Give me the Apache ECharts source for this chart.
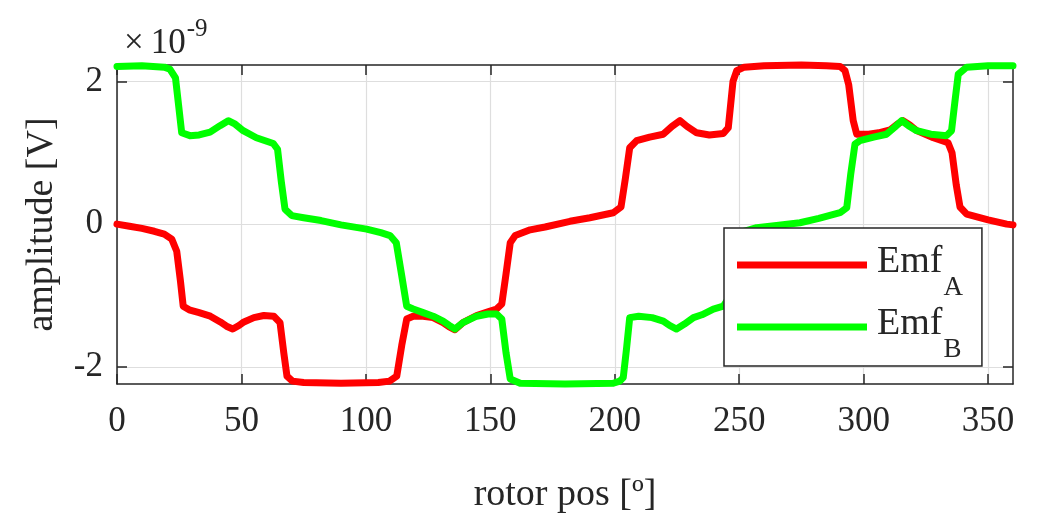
<!DOCTYPE html>
<html><head><meta charset="utf-8">
<script src="https://cdn.jsdelivr.net/npm/echarts@6/dist/echarts.min.js"></script>
<style>html,body{margin:0;padding:0;background:#fff}#c{width:1042px;height:518px}</style>
</head><body><div id="c"></div>
<script>
// values in units of 1e-9 V (axis multiplier shown as ×10^-9)
const posA = [0,5,10,15,19,22,24,25.5,26.6,29,33,37.5,41.5,44,46.5,49,51,55,59,63,65.5,67,68.3,70.5,75,90,105,109.5,112.4,114.4,116.4,119,123,127,131,133.5,135.8,139,144.5,149,152.5,154.6,156.3,158,160,166,172,182,190,199.4,202.5,204.3,206,208.8,214,219.5,223,226.2,229,232.9,238,243.6,245.6,247.5,249,252,260,275,285,290.5,292.5,294,295.8,297.2,302,306,310.6,313.5,315.8,318.5,321.3,328,333.9,335.5,337.2,338.7,341.4,350,357.5,360];
const emfA = [0,-0.03,-0.06,-0.10,-0.14,-0.21,-0.38,-0.8,-1.15,-1.20,-1.24,-1.29,-1.37,-1.43,-1.47,-1.42,-1.37,-1.31,-1.28,-1.29,-1.38,-1.8,-2.13,-2.2,-2.22,-2.23,-2.22,-2.2,-2.13,-1.7,-1.33,-1.29,-1.29,-1.31,-1.38,-1.44,-1.48,-1.38,-1.28,-1.23,-1.19,-1.12,-0.7,-0.26,-0.16,-0.08,-0.04,0.04,0.09,0.16,0.24,0.65,1.07,1.17,1.22,1.26,1.37,1.45,1.37,1.28,1.25,1.27,1.35,2.0,2.15,2.2,2.22,2.23,2.22,2.21,2.15,1.95,1.45,1.26,1.26,1.28,1.32,1.40,1.45,1.39,1.31,1.21,1.14,1.0,0.55,0.24,0.14,0.06,0.0,-0.01];
const posB = [0,10,19,21.3,23.5,24.8,26,29.3,33,37.4,41.4,44.7,47.5,50.7,56,62.8,64.5,66,67.5,70.2,75,82,90,100.3,106,109.7,112.2,114.3,116.4,119,123,127,131,133.5,135.8,139,144.5,149,152.5,154.6,156.3,158,162,180,199.4,202,203.4,204.7,206,209.6,215,219.5,222,224.8,228,231.6,235,239.6,243.6,245.5,246.6,247.7,250,254,257,265,274.4,282,290.5,293.2,294.8,296.5,298.5,304,309.2,312.5,315.3,318,321.3,327,333.3,335.3,336.6,338,341.4,350,360];
const emfB = [2.21,2.22,2.2,2.17,2.05,1.65,1.28,1.24,1.25,1.29,1.38,1.45,1.40,1.31,1.21,1.13,1.05,0.6,0.21,0.12,0.09,0.05,-0.01,-0.07,-0.12,-0.16,-0.26,-0.7,-1.15,-1.19,-1.24,-1.29,-1.36,-1.42,-1.47,-1.38,-1.29,-1.26,-1.26,-1.33,-1.8,-2.17,-2.23,-2.24,-2.23,-2.2,-2.15,-1.75,-1.31,-1.29,-1.31,-1.36,-1.42,-1.47,-1.40,-1.31,-1.27,-1.19,-1.15,-1.05,-0.6,-0.22,-0.12,-0.08,-0.05,-0.02,0.02,0.08,0.16,0.23,0.7,1.12,1.17,1.22,1.26,1.36,1.45,1.38,1.31,1.26,1.24,1.31,1.7,2.1,2.2,2.22,2.22];
const xTicks = [0,50,100,150,200,250,300,350];
const yTicks = [-2,0,2];
const seriesNames = ['Emf_A','Emf_B'];
const seriesColors = ['#ff0000','#00ff00'];
const xTitle = 'rotor pos [º]';
const yTitle = 'amplitude [V]';
const expSym = '×', expBase = '10', expPow = '-9';

const FONT = 'Liberation Serif';
const TXT = '#262626';
const chart = echarts.init(document.getElementById('c'));
const mkData = (xs, ys) => xs.map((x, i) => [x, ys[i]]);
const xRange = [0, 360], yRange = [-2.24, 2.23];
const boxLine = {show:true, onZero:false, lineStyle:{color:TXT, width:1.5}};
const tickIn = vals => ({show:true, inside:true, length:10, customValues:vals, lineStyle:{color:TXT, width:1.5}});
chart.setOption({
  animation:false,
  backgroundColor:'#fff',
  title:{
    text:'{x|'+expSym+'}{a|'+expBase+'}{b|'+expPow+'}', left:119, top:12,
    textStyle:{fontWeight:'normal', rich:{
      x:{fontFamily:FONT, fontSize:35, fontWeight:'normal', color:TXT, verticalAlign:'bottom', lineHeight:44, padding:[0,7,0,0]},
      a:{fontFamily:FONT, fontSize:35, fontWeight:'normal', color:TXT, verticalAlign:'bottom', lineHeight:44},
      b:{fontFamily:FONT, fontSize:25, fontWeight:'normal', color:TXT, verticalAlign:'top', lineHeight:40, padding:[0,0,0,1]}
    }}
  },
  grid:{left:117, right:29, top:65, bottom:134, containLabel:false, outerBoundsMode:'none'},
  xAxis:[{
    type:'value', min:xRange[0], max:xRange[1], position:'bottom',
    axisLine:boxLine, axisTick:tickIn(xTicks),
    axisLabel:{show:true, customValues:xTicks, margin:20, fontFamily:FONT, fontSize:35, color:TXT},
    splitLine:{show:true, lineStyle:{color:'#dedede', width:1.2}},
    name:xTitle, nameLocation:'middle', nameGap:92,
    nameTextStyle:{fontFamily:FONT, fontSize:38, color:TXT}
  },{
    type:'value', min:xRange[0], max:xRange[1], position:'top',
    axisLine:boxLine, axisTick:tickIn(xTicks), axisLabel:{show:false}, splitLine:{show:false}
  }],
  yAxis:[{
    type:'value', min:yRange[0], max:yRange[1], position:'left',
    axisLine:boxLine, axisTick:tickIn(yTicks),
    axisLabel:{show:true, customValues:yTicks, margin:14, fontFamily:FONT, fontSize:35, color:TXT},
    splitLine:{show:true, lineStyle:{color:'#dedede', width:1.2}},
    name:yTitle, nameLocation:'middle', nameGap:56,
    nameTextStyle:{fontFamily:FONT, fontSize:38, color:TXT}
  },{
    type:'value', min:yRange[0], max:yRange[1], position:'right',
    axisLine:boxLine, axisTick:tickIn(yTicks), axisLabel:{show:false}, splitLine:{show:false}
  }],
  legend:{
    orient:'vertical', left:724, top:228,
    padding:[15,19,3,13], itemGap:4, itemWidth:130, itemHeight:7, icon:'rect',
    backgroundColor:'#fff', borderColor:TXT, borderWidth:1.5, borderRadius:0,
    data:seriesNames,
    formatter:name => { const p = name.split('_'); return '{m|'+p[0]+'}{s|'+p[1]+'}'; },
    textStyle:{padding:[0,0,6,0], rich:{
      m:{fontFamily:FONT, fontSize:38, color:TXT, verticalAlign:'top', lineHeight:38, padding:[0,0,0,5]},
      s:{fontFamily:FONT, fontSize:27, color:TXT, verticalAlign:'top', lineHeight:27, padding:[31,0,0,1]}
    }}
  },
  series:[
    {name:seriesNames[0], type:'line', data:mkData(posA, emfA), showSymbol:false, clip:false,
     lineStyle:{color:seriesColors[0], width:7, cap:'round', join:'round'}, itemStyle:{color:seriesColors[0]}},
    {name:seriesNames[1], type:'line', data:mkData(posB, emfB), showSymbol:false, clip:false,
     lineStyle:{color:seriesColors[1], width:7, cap:'round', join:'round'}, itemStyle:{color:seriesColors[1]}}
  ]
});
</script></body></html>
